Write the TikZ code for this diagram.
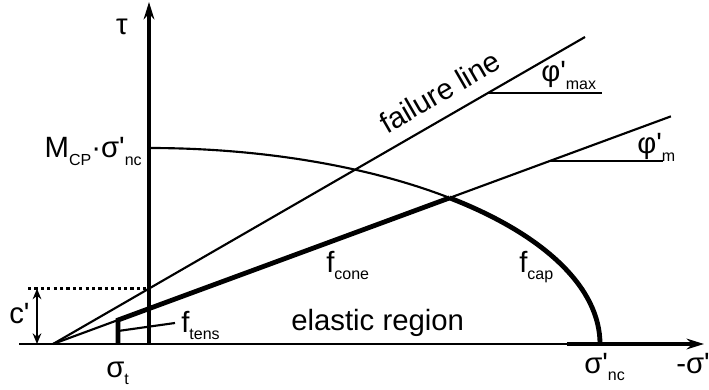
\documentclass[tikz,border=0pt]{standalone}
\usepackage{fontspec}
\setmainfont{Liberation Sans}
\usetikzlibrary{arrows.meta,calc}
\newcommand{\aps}{\textquotesingle}
\newcommand{\lowtxt}[1]{\raisebox{-0.26em}{\fontsize{12}{12}\selectfont #1}}

\begin{document}
\begin{tikzpicture}[x=0.75pt,y=0.75pt,font=\fontsize{22}{26}\selectfont,>={Stealth[length=13pt,width=8pt]}]
  \tikzstyle{thinln}=[line width=1.6pt]
  \tikzstyle{axisln}=[line width=1.9pt]
  \tikzstyle{thickln}=[line width=3.6pt]
  \tikzstyle{lbl}=[inner sep=0pt,anchor=base west]
  \useasboundingbox (0,0) rectangle (709,389);
  % axes
  \coordinate (xs) at (19,45);
  \coordinate (O) at (149,45);
  \coordinate (K) at (567,45);
  \coordinate (xe) at (704,45);
  \coordinate (ye) at (149,387);
  \draw[axisln] (xs) -- (K);
  \draw[thickln,->] (K) -- (xe);
  \draw[line width=2.5pt,->] (O) -- (ye);
  % failure line and mobilised line
  \coordinate (A) at (53,45);
  \coordinate (Fmax) at (585,352);
  \coordinate (M) at (149,241);
  \path (O) ++(48.2:451 and 196) coordinate (X);
  \coordinate (Fm) at ($(A)!1.558!(X)$);
  \coordinate (T) at (118,45);
  \coordinate (Tt) at ($(A)!0.1639!(X)$);
  \draw[thinln] (A) -- (Fmax);
  \draw[thinln] (A) -- (Fm);
  \draw[thickln] (T) -- (Tt) -- (X);
  % cap
  \draw[thinln] (M) arc[start angle=90,end angle=48.2,x radius=451,y radius=196];
  \draw[thickln] (X) arc[start angle=48.2,end angle=0,x radius=451,y radius=196];
  % angle marks
  \coordinate (Pmax) at ($(A)!0.8176!(Fmax)$);
  \coordinate (Qmax) at (602,296);
  \draw[thinln] (Pmax) -- (Pmax -| Qmax);
  \coordinate (Pm) at ($(A)!1.2535!(X)$);
  \coordinate (Qm) at (663,226);
  \draw[thinln] (Pm) -- (Pm -| Qm);
  % cohesion
  \coordinate (C) at ($(A)!0.1805!(Fmax)$);
  \coordinate (cl) at (28,100);
  \coordinate (cb) at (37,45);
  \draw[line width=2pt,dash pattern=on 2.4pt off 2.4pt] (C -| cl) -- (C);
  \draw[line width=1.4pt,{Stealth[length=8pt,width=6.5pt]}-{Stealth[length=8pt,width=6.5pt]}] (cb) -- (C -| cb);
  % labels
  \node (tau) at (122,362) {τ};
  \node[lbl,anchor=base east] (mcp) at (142,231) {M\lowtxt{CP}·σ\aps\lowtxt{nc}};
  \node[lbl,anchor=base,rotate=30] (fl) at (445,288) {failure line};
  \node[lbl] (phimax) at (541,307) {φ\aps\lowtxt{max}};
  \node[lbl] (phim) at (637,235) {φ\aps\lowtxt{m}};
  \node[lbl] (fcone) at (326,117) {f\lowtxt{cone}};
  \node[lbl] (fcap) at (519,117) {f\lowtxt{cap}};
  \node[lbl] (ftens) at (181,57) {f\lowtxt{tens}};
  \node[lbl] (er) at (291,59) {elastic region};
  \node[lbl] (cp) at (9,66) {c\aps};
  \node[lbl] (st) at (106,12) {σ\lowtxt{t}};
  \node[lbl] (snc) at (584,16) {σ\aps\lowtxt{nc}};
  \node[lbl] (ms) at (676,16) {-σ\aps};
  \coordinate (L1) at (118,58);
  \draw[thinln] (L1) -- ($(ftens.base west)+(-6,9)$);
\end{tikzpicture}
\end{document}
